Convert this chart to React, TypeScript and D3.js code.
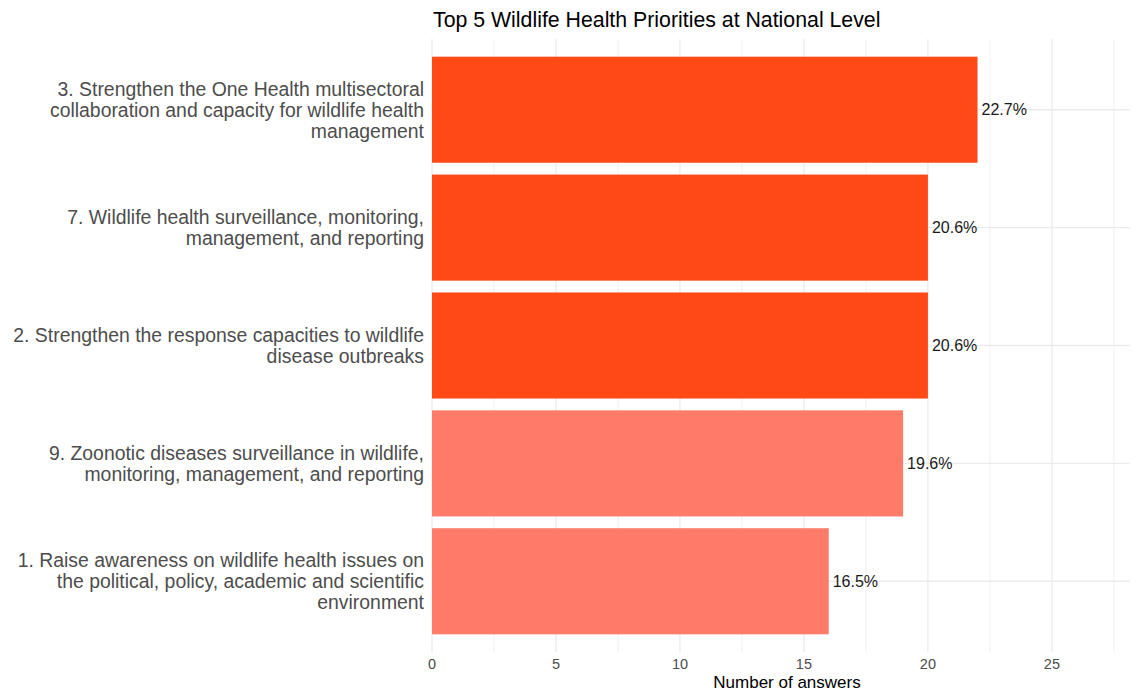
import * as d3 from "d3";

// category labels, already wrapped like in the original
const labels = [
  ["3. Strengthen the One Health multisectoral", "collaboration and capacity for wildlife health", "management"],
  ["7. Wildlife health surveillance, monitoring,", "management, and reporting"],
  ["2. Strengthen the response capacities to wildlife", "disease outbreaks"],
  ["9. Zoonotic diseases surveillance in wildlife,", "monitoring, management, and reporting"],
  ["1. Raise awareness on wildlife health issues on", "the political, policy, academic and scientific", "environment"],
];
const answers = [22, 20, 20, 19, 16];
const shares = ["22.7%", "20.6%", "20.6%", "19.6%", "16.5%"];
const topGroup = [true, true, true, false, false];
const xTicks = [0, 5, 10, 15, 20, 25];
const xMinor = [2.5, 7.5, 12.5, 17.5, 22.5, 27.5];

const W = 1136;
const H = 692;
const left = 432, right = 1130, top = 39, bottom = 652;
const font = "'Liberation Sans', Arial, sans-serif";

export default function App() {
  const x = d3.scaleLinear().domain([0, 28.15]).range([left, right]);
  const ids = labels.map((_, i) => String(i));
  const y = d3.scaleBand().domain(ids).range([top, bottom]).paddingInner(0.1).paddingOuter(0.15);

  return (
    <svg width={W} height={H} style={{ position: "absolute", left: 0, top: 0, fontFamily: font }}>
      <rect width={W} height={H} fill="#fff" />
      {/* grid */}
      {xMinor.map((t) => (
        <line key={"m" + t} x1={x(t)} x2={x(t)} y1={top} y2={bottom} stroke="#f0f0f0" strokeWidth={1} />
      ))}
      {xTicks.map((t) => (
        <line key={"g" + t} x1={x(t)} x2={x(t)} y1={top} y2={bottom} stroke="#ebebeb" strokeWidth={1.3} />
      ))}
      {ids.map((id) => (
        <line key={"h" + id} x1={left} x2={right} y1={y(id)! + y.bandwidth() / 2} y2={y(id)! + y.bandwidth() / 2} stroke="#ebebeb" strokeWidth={1.3} />
      ))}
      {/* bars */}
      {ids.map((id, i) => (
        <rect key={"b" + id} x={x(0)} y={y(id)} width={x(answers[i]) - x(0)} height={y.bandwidth()} fill={topGroup[i] ? "#ff4a17" : "#fe7b6a"} />
      ))}
      {ids.map((id, i) => (
        <text key={"v" + id} x={x(answers[i]) + 4} y={y(id)! + y.bandwidth() / 2} dy="0.36em" fontSize={16} fill="#1a1a1a">
          {shares[i]}
        </text>
      ))}
      {/* y labels */}
      {ids.map((id, i) => {
        const n = labels[i].length;
        const cy = y(id)! + y.bandwidth() / 2;
        return (
          <text key={"l" + id} x={424} textAnchor="end" fontSize={19.4} fill="#4d4d4d">
            {labels[i].map((ln, k) => (
              <tspan key={k} x={424} y={cy + (k - (n - 1) / 2) * 21} dy="0.36em">
                {ln}
              </tspan>
            ))}
          </text>
        );
      })}
      {/* x axis */}
      {xTicks.map((t) => (
        <text key={"t" + t} x={x(t)} y={664} dy="0.36em" textAnchor="middle" fontSize={14.5} fill="#4d4d4d">
          {t}
        </text>
      ))}
      <text x={(left + right) / 2 + 6} y={682} dy="0.34em" textAnchor="middle" fontSize={17} fill="#000">
        Number of answers
      </text>
      <text x={433} y={27} fontSize={21.3} fill="#000">
        Top 5 Wildlife Health Priorities at National Level
      </text>
    </svg>
  );
}
